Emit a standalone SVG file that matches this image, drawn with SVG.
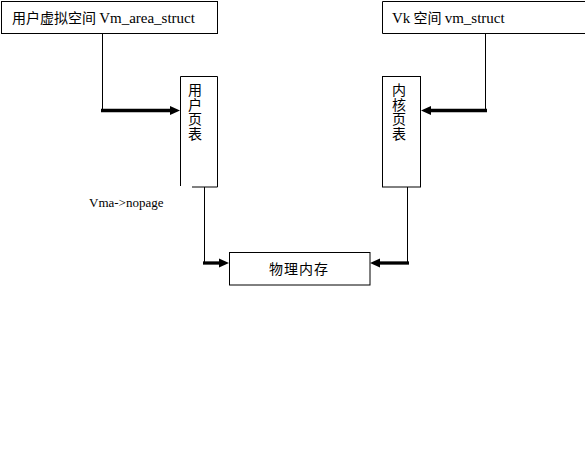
<svg xmlns="http://www.w3.org/2000/svg" width="585" height="452" viewBox="0 0 585 452">
<style>
.box{fill:#fff;stroke:#000;stroke-width:1}
.ln{fill:none;stroke:#000;stroke-width:1}
.th{fill:none;stroke:#000;stroke-width:3.3}
.hd{fill:#000;stroke:none}
.zh{font-family:"Noto Sans CJK SC","Noto Sans CJK JP",sans-serif;font-size:14px;fill:#000}
.lat{font-family:"Liberation Serif","Times New Roman",serif;font-size:15px}
</style>
<rect width="585" height="452" fill="#fff"/>
<g id="user-vm">
<rect class="box" x="1.5" y="1.5" width="216" height="32"/>
<text class="zh" x="12" y="23">用户虚拟空间 <tspan class="lat">Vm_area_struct</tspan></text>
</g>
<g id="vk-vm">
<path class="ln" d="M586,1.5 H382.5 V33.5 H586"/>
<text class="zh" x="392" y="23"><tspan class="lat">Vk</tspan> 空间 <tspan class="lat">vm_struct</tspan></text>
</g>
<g id="user-pt">
<path class="ln" d="M180.5,186 V76.5 H217.5 V187 H192"/>
<text class="zh" x="188" y="95"><tspan x="188">用</tspan><tspan x="188" dy="14.7">户</tspan><tspan x="188" dy="14.7">页</tspan><tspan x="188" dy="14.7">表</tspan></text>
</g>
<g id="kernel-pt">
<rect class="box" x="382.5" y="76.5" width="38" height="110.5"/>
<text class="zh" x="392" y="95"><tspan x="392">内</tspan><tspan x="392" dy="14.7">核</tspan><tspan x="392" dy="14.7">页</tspan><tspan x="392" dy="14.7">表</tspan></text>
</g>
<g id="phys-mem">
<rect class="box" x="229.5" y="252.5" width="140.5" height="32.5"/>
<text class="zh" x="299" y="274" text-anchor="middle" letter-spacing="1">物理内存</text>
</g>
<g id="label-nopage">
<text class="lat" x="89" y="207" style="font-size:13px">Vma-&gt;nopage</text>
</g>
<g id="connectors">
<path class="ln" d="M102.5,33.5 V110.5"/>
<path class="th" d="M101,110.5 H172"/>
<polygon class="hd" points="170,106 180,110.5 170,115"/>
<path class="ln" d="M485.5,33.5 V110.5"/>
<path class="th" d="M487,110.5 H429"/>
<polygon class="hd" points="431,106 421,110.5 431,115"/>
<path class="ln" d="M204.5,187 V263"/>
<path class="th" d="M203,263 H221"/>
<polygon class="hd" points="219,258.5 229,263 219,267.5"/>
<path class="ln" d="M407.5,187 V263"/>
<path class="th" d="M409,263 H378"/>
<polygon class="hd" points="380,258.5 370,263 380,267.5"/>
</g>
</svg>
